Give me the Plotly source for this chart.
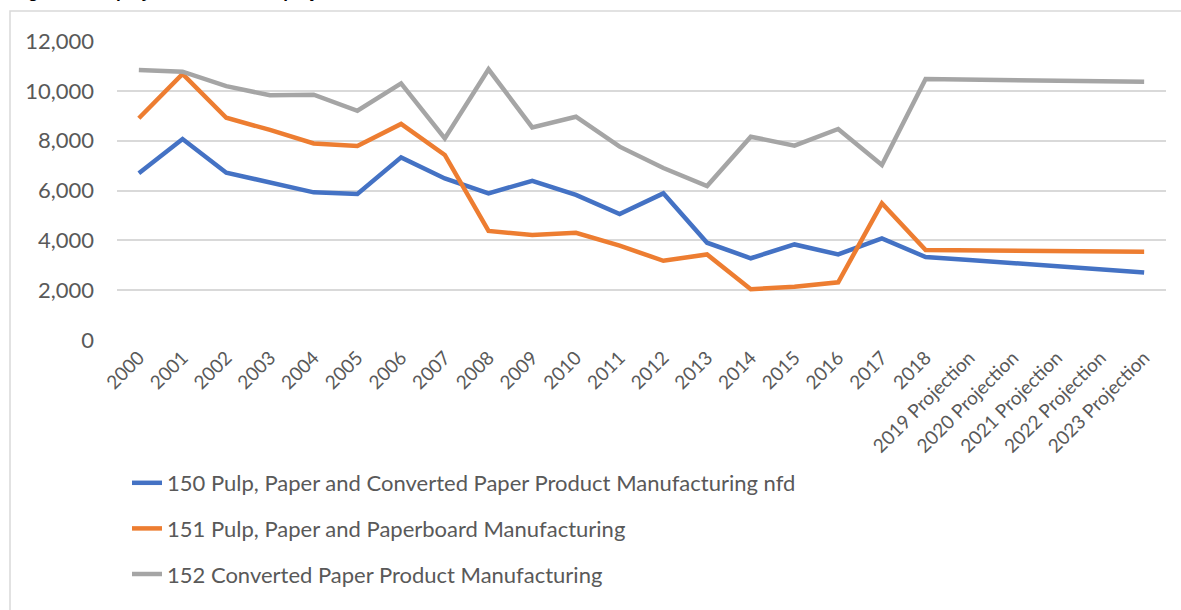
import plotly.graph_objects as go

categories = ["2000", "2001", "2002", "2003", "2004", "2005", "2006", "2007", "2008", "2009",
              "2010", "2011", "2012", "2013", "2014", "2015", "2016", "2017", "2018",
              "2019 Projection", "2020 Projection", "2021 Projection", "2022 Projection",
              "2023 Projection"]

s150 = [6690, 8065, 6715, 6330, 5925, 5860, 7330, 6485, 5885, 6390, 5820, 5055, 5885, 3905,
        3280, 3835, 3435, 4080, 3330, 3210, 3085, 2960, 2835, 2710]
s151 = [8900, 10675, 8920, 8430, 7890, 7785, 8670, 7425, 4375, 4215, 4305, 3785, 3180, 3435,
        2035, 2140, 2315, 5485, 3610, 3595, 3580, 3570, 3555, 3545]
s152 = [10835, 10770, 10190, 9820, 9845, 9200, 10300, 8090, 10865, 8535, 8960, 7760, 6900,
        6180, 8160, 7800, 8470, 7025, 10475, 10450, 10430, 10405, 10385, 10365]

names = ["150 Pulp, Paper and Converted Paper Product Manufacturing nfd",
         "151 Pulp, Paper and Paperboard Manufacturing",
         "152 Converted Paper Product Manufacturing"]
colors = ["#4472C4", "#ED7D31", "#A5A5A5"]
title_text = "Figure 4: Employment levels and projections to 2023"

W, H = 1181, 610
L, R, T, B = 117, 15, 41, 270
plot_w = W - L - R
plot_h = H - T - B

fig = go.Figure()
for i, (nm, ys, c) in enumerate(zip(names, [s150, s151, s152], colors)):
    fig.add_trace(go.Scatter(x=categories, y=ys, name=nm, mode="lines",
                             line=dict(color=c, width=4.5),
                             legendgroup=f"g{i}"))

font_main = "Lato, Calibri, Carlito, sans-serif"
fs = 22
fig.update_layout(
    width=W, height=H,
    margin=dict(l=L, r=R, t=T, b=B, pad=0, autoexpand=False),
    paper_bgcolor="white", plot_bgcolor="white",
    font=dict(family=font_main, size=fs, color="#595959"),
    showlegend=True,
    legend=dict(orientation="v", xref="container", yref="container",
                x=127 / W, y=1 - 462 / H, xanchor="left", yanchor="top",
                font=dict(family=font_main, size=fs, color="#595959"),
                tracegroupgap=14, traceorder="grouped",
                bgcolor="rgba(0,0,0,0)", itemwidth=30),
    xaxis=dict(type="category", range=[-0.5, len(categories) - 0.5],
               tickmode="array", tickvals=categories, ticktext=categories,
               tickangle=-45, showgrid=False, showline=False, ticks="",
               tickfont=dict(family=font_main, size=19, color="#595959"),
               ticklabelstandoff=2,
               zeroline=False, automargin=False),
    yaxis=dict(range=[0, 12000], tickvals=[0, 2000, 4000, 6000, 8000, 10000, 12000],
               tickformat=",d", showgrid=True, gridcolor="#D9D9D9", gridwidth=1.5,
               zeroline=False, showline=False, ticks="", ticklabelstandoff=22,
               tickfont=dict(family=font_main, size=fs, color="#595959"),
               automargin=False),
    shapes=[dict(type="rect", xref="paper", yref="paper",
                 x0=(10 - L) / plot_w, x1=(W + 20 - L) / plot_w,
                 y0=-(H + 20 - T - plot_h) / plot_h, y1=(H - B - 11) / plot_h,
                 line=dict(color="#D9D9D9", width=1.5), fillcolor="rgba(0,0,0,0)",
                 layer="below")],
    annotations=[dict(text="<b>" + title_text + "</b>", xref="paper", yref="paper",
                      x=(11 - L) / plot_w, y=(H - B + 8) / plot_h,
                      xanchor="left", yanchor="middle", showarrow=False,
                      font=dict(family="Liberation Sans, Arial, sans-serif", size=17,
                                color="black"))],
)

fig.write_html("out.html")
